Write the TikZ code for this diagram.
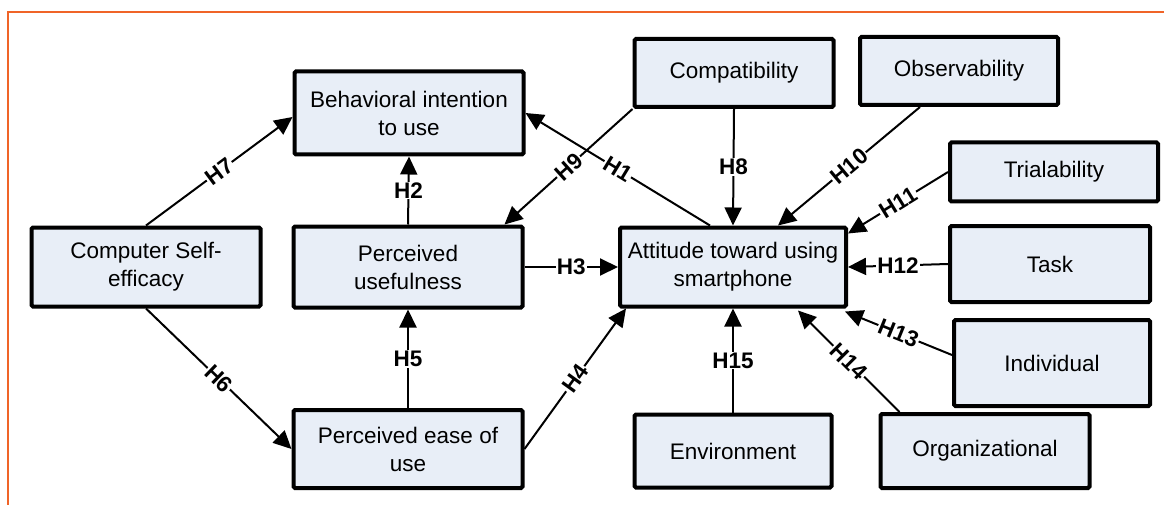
\documentclass[tikz,border=0pt]{standalone}
\usepackage{fontspec}
\setmainfont{Liberation Sans}
\usetikzlibrary{calc,arrows.meta}
\definecolor{boxfill}{RGB}{232,238,247}
\definecolor{frameorange}{RGB}{240,100,40}
\tikzset{
	box/.style={draw=black, fill=boxfill, line width=4pt, rounded corners=1.5pt, align=center, inner sep=0pt, font=\fontsize{22.5}{28}\selectfont},
	hyp/.style={line width=2pt, -{Triangle[length=18pt,width=17pt]}},
	hlabel/.style={fill=white, inner sep=1pt, font=\fontsize{22.5}{24}\selectfont\bfseries}
}

\begin{document}
\begin{tikzpicture}[x=1pt, y=-1pt]
			%%%%% START %%%%%
			\useasboundingbox (0, 0) rectangle (1164, 505);
			\draw[line width=2pt, color=frameorange] (8, 505) -- (8, 12) -- (1164, 12);
			
			\node[box, minimum width=229, minimum height=83] (bi) at (409, 113) {Behavioral intention\\to use};
			\node[box, minimum width=229, minimum height=79] (cse) at (146, 267) {Computer Self-\\efficacy};
			\node[box, minimum width=229, minimum height=81] (pu) at (408, 267) {Perceived\\usefulness};
			\node[box, minimum width=229, minimum height=78] (peou) at (408, 449) {Perceived ease of\\use};
			\node[box, minimum width=226, minimum height=79] (att) at (733, 267) {Attitude toward using\\smartphone};
			
			\node[box, minimum width=199, minimum height=68] (comp) at (734, 73) {Compatibility};
			\node[box, minimum width=198, minimum height=68] (obs) at (959, 71) {Observability};
			\node[box, minimum width=208, minimum height=59] (tri) at (1054, 172) {Trialability};
			\node[box, minimum width=200, minimum height=76] (task) at (1050, 264) {Task};
			\node[box, minimum width=196, minimum height=86] (ind) at (1052, 363) {Individual};
			\node[box, minimum width=209, minimum height=74] (org) at (985, 451) {Organizational};
			\node[box, minimum width=197, minimum height=73] (env) at (733, 451) {Environment};
			
			\draw[hyp] ($(att.north)+(-23, 0)$) -- node[hlabel, sloped] {H1} (bi.east);
			\draw[hyp] (pu.north) -- node[hlabel] {H2} (bi.south);
			\draw[hyp] (pu.east) -- node[hlabel] {H3} (att.west);
			\draw[hyp] (peou.east) -- node[hlabel, sloped] {H4} ($(att.south west)+(8, 0)$);
			\draw[hyp] (peou.north) -- node[hlabel] {H5} (pu.south);
			\draw[hyp] (cse.south) -- node[hlabel, sloped] {H6} (peou.west);
			\draw[hyp] (cse.north) -- node[hlabel, sloped] {H7} ($(bi.west)+(0, 4)$);
			
			\draw[hyp] (comp.south) -- node[hlabel] {H8} (att.north);
			\draw[hyp] (comp.south west) -- node[hlabel, sloped] {H9} ($(pu.north east)+(-20, 0)$);
			\draw[hyp] ($(obs.south)+(-39, 0)$) -- node[hlabel, sloped] {H10} ($(att.north east)+(-70, 0)$);
			\draw[hyp] (tri.west) -- node[hlabel, sloped] {H11} ($(att.north east)+(0, 8)$);
			\draw[hyp] (task.west) -- node[hlabel] {H12} (att.east);
			\draw[hyp] ($(ind.west)+(0, -8)$) -- node[hlabel, sloped] {H13} ($(att.south east)+(-3, 3)$);
			\draw[hyp] ($(org.north west)+(21, 0)$) -- node[hlabel, sloped] {H14} ($(att.south)+(65, 2)$);
			\draw[hyp] (env.north) -- node[hlabel] {H15} (att.south);
			%%%%% END %%%%%
		\end{tikzpicture}
\end{document}
